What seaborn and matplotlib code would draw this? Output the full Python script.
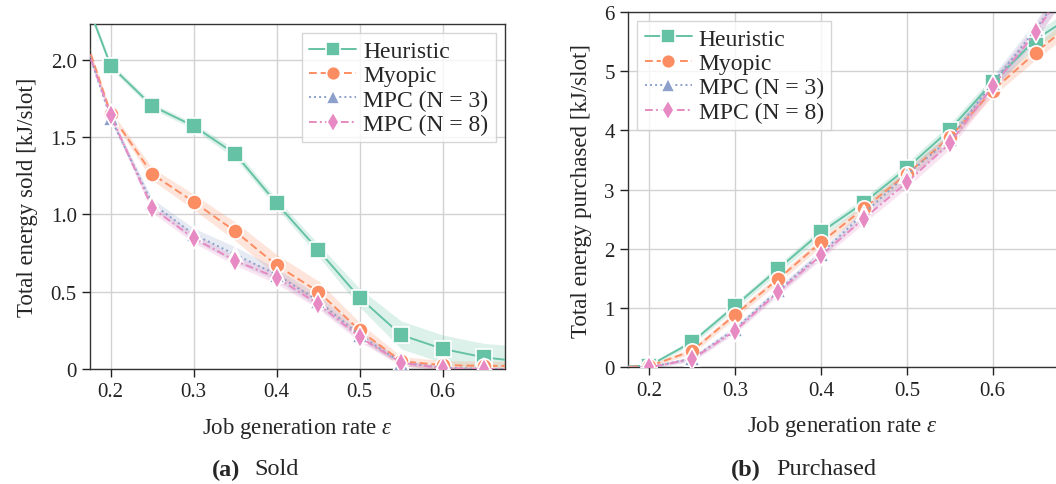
import numpy as np
import pandas as pd
import matplotlib
matplotlib.use("Agg")
import matplotlib.pyplot as plt
from matplotlib.ticker import FuncFormatter
import seaborn as sns

# ---------------- data ----------------
x_rate = [0.15, 0.2, 0.25, 0.3, 0.35, 0.4, 0.45, 0.5, 0.55, 0.6, 0.65, 0.7]
methods = ["Heuristic", "Myopic", "MPC (N = 3)", "MPC (N = 8)"]

sold_heur = [2.67, 1.96, 1.70, 1.57, 1.39, 1.07, 0.77, 0.46, 0.22, 0.13, 0.075, 0.045]
sold_myop = [2.45, 1.65, 1.26, 1.08, 0.89, 0.67, 0.50, 0.25, 0.05, 0.025, 0.02, 0.02]
sold_mpc3 = [2.42, 1.62, 1.07, 0.87, 0.74, 0.61, 0.44, 0.22, 0.04, 0.01, 0.0, 0.0]
sold_mpc8 = [2.40, 1.64, 1.04, 0.845, 0.70, 0.59, 0.42, 0.205, 0.04, 0.005, 0.0, 0.0]

sold_heur_hw = [0.03, 0.02, 0.02, 0.02, 0.03, 0.03, 0.04, 0.06, 0.09, 0.09, 0.09, 0.10]
sold_myop_hw = [0.02, 0.02, 0.04, 0.05, 0.06, 0.07, 0.07, 0.05, 0.03, 0.03, 0.03, 0.03]
sold_mpc3_hw = [0.02, 0.02, 0.03, 0.04, 0.05, 0.04, 0.04, 0.03, 0.02, 0.01, 0.01, 0.01]
sold_mpc8_hw = [0.02, 0.02, 0.03, 0.03, 0.03, 0.04, 0.03, 0.03, 0.02, 0.01, 0.01, 0.01]

purch_heur = [0.0, 0.03, 0.43, 1.04, 1.66, 2.28, 2.78, 3.36, 4.01, 4.81, 5.53, 6.00]
purch_myop = [0.0, 0.02, 0.28, 0.89, 1.49, 2.11, 2.68, 3.26, 3.88, 4.67, 5.31, 5.90]
purch_mpc3 = [0.0, 0.0, 0.15, 0.65, 1.30, 1.92, 2.60, 3.25, 3.85, 4.80, 5.70, 6.70]
purch_mpc8 = [0.0, 0.0, 0.14, 0.62, 1.27, 1.89, 2.51, 3.12, 3.78, 4.74, 5.65, 6.75]

purch_heur_hw = [0.02, 0.02, 0.05, 0.06, 0.07, 0.08, 0.08, 0.09, 0.10, 0.10, 0.12, 0.15]
purch_myop_hw = [0.02, 0.02, 0.05, 0.06, 0.07, 0.07, 0.08, 0.08, 0.09, 0.10, 0.12, 0.15]
purch_mpc3_hw = [0.02, 0.02, 0.04, 0.05, 0.06, 0.07, 0.08, 0.09, 0.10, 0.12, 0.14, 0.16]
purch_mpc8_hw = [0.02, 0.02, 0.04, 0.05, 0.06, 0.07, 0.08, 0.09, 0.10, 0.12, 0.14, 0.16]

x_ticks = [0.2, 0.3, 0.4, 0.5, 0.6]
sold_yticks = [0.0, 0.5, 1.0, 1.5, 2.0]
purch_yticks = [0, 1, 2, 3, 4, 5, 6]

# ---------------- style ----------------
sns.set_theme(style="whitegrid", rc={
    "axes.edgecolor": "#333333",
    "axes.linewidth": 1.0,
    "grid.color": "#d2d2d2",
    "grid.linewidth": 1.0,
    "xtick.bottom": True,
    "ytick.left": True,
    "xtick.major.size": 5,
    "ytick.major.size": 5,
    "xtick.color": "#222222",
    "ytick.color": "#222222",
})
plt.rcParams["font.family"] = ["Liberation Serif", "DejaVu Serif"]
plt.rcParams["mathtext.fontset"] = "custom"
plt.rcParams["mathtext.rm"] = "Liberation Serif"
plt.rcParams["mathtext.it"] = "Liberation Serif:italic"
plt.rcParams["mathtext.bf"] = "Liberation Serif:bold"
FS_TICK = 15
FS_LABEL = 16.5
FS_LEG = 17
FS_CAP = 17.5

palette = sns.color_palette("Set2", 4)
markers = ["s", "o", "^", "d"]
dashes = ["", (4, 2), (1, 1.6), (4, 1.6, 1, 1.6)]


def build(series):
    rows = []
    for m, vals in zip(methods, series):
        for xv, yv in zip(x_rate, vals):
            rows.append({"rate": xv, "value": yv, "method": m})
    return pd.DataFrame(rows)


fig = plt.figure(figsize=(10.56, 4.85), dpi=100)
ax1 = fig.add_axes([0.0852, 0.2371, 0.3930, 0.7114])
ax2 = fig.add_axes([0.5947, 0.2406, 0.4063, 0.7332])


def draw(ax, series, hws, ylim, yticks, ylabel, legloc):
    df = build(series)
    for col, vals, hw in zip(palette, series, hws):
        v = np.array(vals)
        h = np.array(hw)
        ax.fill_between(x_rate, v - h, v + h, color=col, alpha=0.22, linewidth=0, zorder=1)
    sns.lineplot(data=df, x="rate", y="value", hue="method", style="method",
                 palette=palette, markers=markers, dashes=dashes,
                 hue_order=methods, style_order=methods,
                 markersize=11, markeredgecolor="white", markeredgewidth=1.2,
                 linewidth=1.4, ax=ax, zorder=3, clip_on=True)
    ax.set_xlim(0.175, 0.675)
    ax.set_ylim(*ylim)
    ax.set_xticks(x_ticks)
    ax.set_yticks(yticks)
    ax.xaxis.set_major_formatter(FuncFormatter(lambda v, p: f"{v:.1f}"))
    ax.yaxis.set_major_formatter(FuncFormatter(
        lambda v, p: "0" if abs(v) < 1e-9 else (f"{v:.1f}" if ylim[1] < 3 else f"{v:.0f}")))
    ax.tick_params(labelsize=FS_TICK, length=6, width=1)
    ax.set_xlabel(r"Job generation rate $\varepsilon$", fontsize=FS_LABEL, labelpad=10)
    ax.set_ylabel(ylabel, fontsize=FS_LABEL, labelpad=9)
    for s in ax.spines.values():
        s.set_color("#333333")
    sns.move_legend(ax, legloc, title=None, frameon=True, fancybox=False,
                    fontsize=FS_LEG, framealpha=0.8, edgecolor="#cccccc",
                    borderpad=0.3, labelspacing=0.12, handlelength=2.0,
                    handletextpad=0.3, borderaxespad=0.4)
    leg = ax.get_legend()
    for h in leg.legend_handles:
        h.set_markersize(10)
        h.set_markeredgecolor("white")
        h.set_linewidth(1.4)


draw(ax1,
     [sold_heur, sold_myop, sold_mpc3, sold_mpc8],
     [sold_heur_hw, sold_myop_hw, sold_mpc3_hw, sold_mpc8_hw],
     (0, 2.23), sold_yticks, "Total energy sold [kJ/slot]", "upper right")
draw(ax2,
     [purch_heur, purch_myop, purch_mpc3, purch_mpc8],
     [purch_heur_hw, purch_myop_hw, purch_mpc3_hw, purch_mpc8_hw],
     (0, 6), purch_yticks, "Total energy purchased [kJ/slot]", "upper left")

fig.text(0.2005, 0.031, "(a)", fontsize=FS_CAP, fontweight="bold", ha="left", va="center")
fig.text(0.2405, 0.031, "Sold", fontsize=FS_CAP, ha="left", va="center")
fig.text(0.6920, 0.031, "(b)", fontsize=FS_CAP, fontweight="bold", ha="left", va="center")
fig.text(0.7350, 0.031, "Purchased", fontsize=FS_CAP, ha="left", va="center")

fig.savefig("out.png", dpi=100)
